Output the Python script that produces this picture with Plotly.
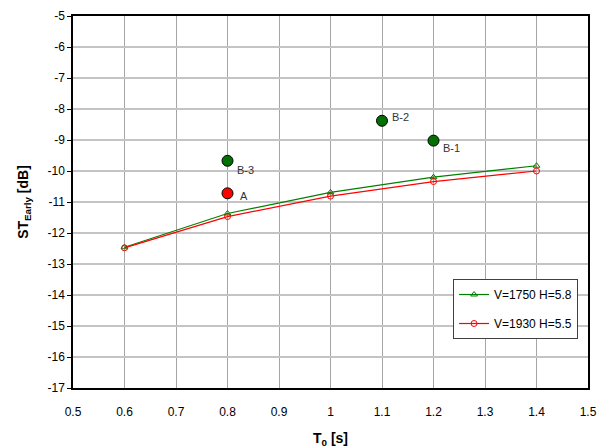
import plotly.graph_objects as go

t0 = [0.6, 0.8, 1.0, 1.2, 1.4]
st_v1750 = [-12.46, -11.37, -10.69, -10.20, -9.83]
st_v1930 = [-12.48, -11.47, -10.81, -10.34, -10.00]

green_pts_x = [1.2, 1.1, 0.8]
green_pts_y = [-9.02, -8.38, -9.67]
green_pts_lbl = ["B-1", "B-2", "B-3"]
red_pts_x = [0.8]
red_pts_y = [-10.72]
red_pts_lbl = ["A"]

xticks = [0.5, 0.6, 0.7, 0.8, 0.9, 1.0, 1.1, 1.2, 1.3, 1.4, 1.5]
xticklabels = ["0.5", "0.6", "0.7", "0.8", "0.9", "1", "1.1", "1.2", "1.3", "1.4", "1.5"]
yticks = list(range(-17, -4))
yticklabels = [str(v) for v in yticks]

FONT = "Liberation Sans, Arial, sans-serif"

fig = go.Figure()

fig.add_trace(go.Scatter(
    x=t0, y=st_v1750, mode="lines+markers", name="V=1750 H=5.8",
    line=dict(color="#008000", width=1.2),
    marker=dict(symbol="triangle-up-open", size=6, color="#008000", line=dict(width=1)),
    legendgroup="a",
))
fig.add_trace(go.Scatter(
    x=t0, y=st_v1930, mode="lines+markers", name="V=1930 H=5.5",
    line=dict(color="#ff0000", width=1.2),
    marker=dict(symbol="circle-open", size=6, color="#ff0000", line=dict(width=1)),
    legendgroup="b",
))
fig.add_trace(go.Scatter(
    x=green_pts_x, y=green_pts_y, mode="markers",
    marker=dict(size=11, color="#007000", line=dict(color="#000000", width=1)),
    showlegend=False,
))
fig.add_trace(go.Scatter(
    x=red_pts_x, y=red_pts_y, mode="markers",
    marker=dict(size=11, color="#ff0000", line=dict(color="#000000", width=1)),
    showlegend=False,
))

# label offsets (pixels) relative to each point
lbl_shift = {"B-1": (7, -7), "B-2": (8, 4), "B-3": (7, -9), "A": (10, -3)}
for xs, ys, ls in [(green_pts_x, green_pts_y, green_pts_lbl), (red_pts_x, red_pts_y, red_pts_lbl)]:
    for x, y, l in zip(xs, ys, ls):
        dx, dy = lbl_shift[l]
        fig.add_annotation(x=x, y=y, text=l, showarrow=False, xanchor="left", yanchor="middle",
                           xshift=dx, yshift=dy,
                           font=dict(family=FONT, size=11, color="#333333"))

fig.update_layout(
    width=605, height=448,
    margin=dict(l=73, r=17, t=16, b=60, autoexpand=False),
    paper_bgcolor="white", plot_bgcolor="white",
    font=dict(family=FONT, size=12, color="#000000"),
    legend=dict(
        x=0.738, y=0.293, xanchor="left", yanchor="top",
        bgcolor="white", bordercolor="#404040", borderwidth=1,
        font=dict(family=FONT, size=12, color="#000000"),
        tracegroupgap=10, traceorder="grouped", itemwidth=30,
    ),
    xaxis=dict(
        range=[0.5, 1.5], tickvals=xticks, ticktext=xticklabels,
        showgrid=True, gridcolor="#a6a6a6", gridwidth=1,
        showline=True, linecolor="#000000", linewidth=1.5, mirror=True,
        ticks="outside", ticklen=12, tickcolor="rgba(0,0,0,0)",
        zeroline=False, automargin=False,
        title=dict(text="<b>T<sub>0</sub> [s]</b>", font=dict(family=FONT, size=14), standoff=16),
    ),
    yaxis=dict(
        range=[-17, -5], tickvals=yticks, ticktext=yticklabels,
        showgrid=True, gridcolor="#c4c4c4", gridwidth=1.5,
        showline=True, linecolor="#000000", linewidth=1.5, mirror=True,
        ticks="outside", ticklen=4, tickcolor="#000000", zeroline=False, automargin=False,
        title=dict(text="<b>ST<sub>Early</sub> [dB]</b>", font=dict(family=FONT, size=14), standoff=16),
    ),
)

fig.write_html("out.html", config={"displayModeBar": False},
               post_script="document.body.style.margin='0';document.body.style.overflow='hidden';")
